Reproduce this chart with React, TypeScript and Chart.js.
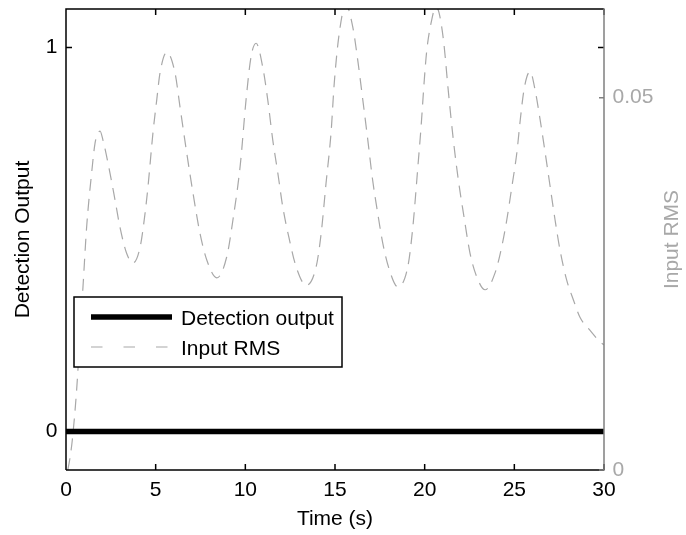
import React, { useEffect, useRef } from "react";
import { Chart, registerables } from "chart.js";

Chart.register(...registerables);

// ---- data ----
const rmsTime = [
  0.1, 0.2, 0.35, 0.6, 0.8, 0.96, 1.15, 1.43, 1.62, 1.78, 1.9, 2.06, 2.45, 2.73, 3.01, 3.38, 3.74,
  4.13, 4.41, 4.57, 4.85, 5.06, 5.24, 5.62, 6.08, 6.36, 6.73, 7.08, 7.47, 7.85, 8.41,
  8.96, 9.31, 9.72, 10.04, 10.32, 10.6, 10.97, 11.25, 11.53, 11.81, 12.09, 12.46, 12.83, 13.39,
  13.95, 14.23, 14.5, 14.78, 14.96, 15.24, 15.6, 15.99, 16.27, 16.55, 16.83, 17.1, 17.38, 17.66, 18.03, 18.5,
  19.06, 19.34, 19.62, 19.8, 19.98, 20.12, 20.39, 20.62, 20.8, 21.05, 21.33, 21.6, 21.88, 22.16, 22.53, 22.91, 23.37,
  23.93, 24.3, 24.58, 24.86, 25.14, 25.33, 25.51, 25.7, 25.88, 26.16, 26.44, 26.72, 27.0, 27.27, 27.55, 27.92,
  28.3, 28.66, 29.2, 29.78, 30,
];
const rmsValue = [
  0, 0.0013, 0.004, 0.011, 0.019, 0.0251, 0.0326, 0.0399, 0.0439, 0.0452, 0.0455, 0.0443, 0.0399, 0.0363, 0.0326, 0.0291, 0.0278,
  0.0299, 0.0345, 0.038, 0.0453, 0.0497, 0.0533, 0.0561, 0.0533, 0.0487, 0.0426, 0.0372, 0.0318, 0.0282, 0.0258,
  0.0286, 0.0336, 0.041, 0.0497, 0.0555, 0.0573, 0.0541, 0.0497, 0.0443, 0.0399, 0.0353, 0.0309, 0.0273, 0.0248,
  0.0273, 0.0318, 0.0385, 0.0453, 0.052, 0.0587, 0.0625, 0.0595, 0.055, 0.0497, 0.0443, 0.0389, 0.0345, 0.0305, 0.0269, 0.0246,
  0.0273, 0.0326, 0.0407, 0.0461, 0.0524, 0.0564, 0.0604, 0.0622, 0.0614, 0.0577, 0.0506, 0.0443, 0.0389, 0.0345, 0.0291, 0.0259, 0.0242,
  0.0265, 0.03, 0.0336, 0.038, 0.0426, 0.047, 0.0506, 0.0528, 0.0535, 0.051, 0.047, 0.0426, 0.038, 0.0336, 0.0295, 0.0255,
  0.0228, 0.0205, 0.0188, 0.0172, 0.0168,
];
const detectionTime = [0, 30];
const detectionValue = [0, 0];

const xTickValues = [0, 5, 10, 15, 20, 25, 30];
const leftTickValues = [0, 1];
const rightTickValues = [0, 0.05];

const xTitle = "Time (s)";
const leftTitle = "Detection Output";
const rightTitle = "Input RMS";
const legendLabels = ["Detection output", "Input RMS"];

// ---- styles ----
const FONT = '"Liberation Sans", Arial, Helvetica, sans-serif';
const FONT_SIZE = 21;
const GREY = "#a8a8a8";
const GREY_AXIS = "#808080";
const RMS_DASH = [12, 8];

const noPad = (s: any) => {
  s.paddingTop = 0;
  s.paddingBottom = 0;
  s.paddingLeft = 0;
  s.paddingRight = 0;
};

const framePlugin = {
  id: "frame",
  afterDatasetsDraw(chart: any) {
    const { ctx, chartArea: a, scales } = chart;
    const x = scales.x;
    const y = scales.y;
    const y2 = scales.y2;
    ctx.save();
    ctx.lineCap = "butt";
    // black spines + ticks
    ctx.strokeStyle = "#000";
    ctx.lineWidth = 1.5;
    ctx.beginPath();
    ctx.moveTo(a.left, a.bottom);
    ctx.lineTo(a.left, a.top);
    ctx.lineTo(a.right, a.top);
    ctx.moveTo(a.left, a.bottom);
    ctx.lineTo(a.right, a.bottom);
    for (const v of xTickValues) {
      const px = x.getPixelForValue(v);
      ctx.moveTo(px, a.bottom);
      ctx.lineTo(px, a.bottom - 6);
      ctx.moveTo(px, a.top);
      ctx.lineTo(px, a.top + 6);
    }
    for (const v of leftTickValues) {
      const py = y.getPixelForValue(v);
      ctx.moveTo(a.left, py);
      ctx.lineTo(a.left + 6, py);
      ctx.moveTo(a.right, py);
      ctx.lineTo(a.right - 6, py);
    }
    ctx.stroke();
    // grey right spine
    ctx.strokeStyle = GREY_AXIS;
    ctx.beginPath();
    ctx.moveTo(a.right, a.top - 0.75);
    ctx.lineTo(a.right, a.bottom + 0.75);
    for (const v of rightTickValues) {
      const py = y2.getPixelForValue(v);
      ctx.moveTo(a.right, py);
      ctx.lineTo(a.right - 5, py);
    }
    ctx.stroke();

    // legend
    const lx = 74, ly = 297, lw = 268, lh = 70;
    ctx.fillStyle = "#fff";
    ctx.fillRect(lx, ly, lw, lh);
    ctx.strokeStyle = "#000";
    ctx.lineWidth = 1.5;
    ctx.strokeRect(lx, ly, lw, lh);
    ctx.beginPath();
    ctx.lineWidth = 5.5;
    ctx.moveTo(91, 317);
    ctx.lineTo(172, 317);
    ctx.stroke();
    ctx.beginPath();
    ctx.strokeStyle = GREY;
    ctx.lineWidth = 1.2;
    ctx.setLineDash([11.5, 21]);
    ctx.moveTo(91, 347);
    ctx.lineTo(172, 347);
    ctx.stroke();
    ctx.setLineDash([]);
    ctx.font = `${FONT_SIZE}px ${FONT}`;
    ctx.fillStyle = "#000";
    ctx.textAlign = "left";
    ctx.textBaseline = "alphabetic";
    ctx.fillText(legendLabels[0], 181, 325);
    ctx.fillText(legendLabels[1], 181, 355);

    // axis titles
    ctx.textAlign = "center";
    ctx.fillText(xTitle, (a.left + a.right) / 2, 525);
    const cy = (a.top + a.bottom) / 2;
    ctx.save();
    ctx.translate(29, cy);
    ctx.rotate(-Math.PI / 2);
    ctx.fillText(leftTitle, 0, 0);
    ctx.restore();
    ctx.save();
    ctx.fillStyle = GREY;
    ctx.translate(678, cy);
    ctx.rotate(-Math.PI / 2);
    ctx.fillText(rightTitle, 0, 0);
    ctx.restore();
    ctx.restore();
  },
};

export default function App() {
  const ref = useRef<HTMLCanvasElement | null>(null);
  useEffect(() => {
    if (!ref.current) return;
    const detData = detectionTime.map((t, i) => ({ x: t, y: detectionValue[i] }));
    const rmsData = rmsTime.map((t, i) => ({ x: t, y: rmsValue[i] }));
    const chart = new Chart(ref.current, {
      type: "line",
      data: {
        datasets: [
          {
            label: legendLabels[0],
            data: detData,
            yAxisID: "y",
            borderColor: "#000",
            borderWidth: 5.5,
            pointRadius: 0,
            tension: 0,
          },
          {
            label: legendLabels[1],
            data: rmsData,
            yAxisID: "y2",
            borderColor: GREY,
            borderWidth: 1.2,
            borderDash: RMS_DASH,
            pointRadius: 0,
            cubicInterpolationMode: "monotone",
          },
        ],
      },
      options: {
        animation: false,
        responsive: false,
        maintainAspectRatio: false,
        layout: { padding: { top: 9, left: 0, right: 0, bottom: 0 } },
        plugins: { legend: { display: false }, tooltip: { enabled: false } },
        font: { family: FONT, size: FONT_SIZE },
        scales: {
          x: {
            type: "linear",
            min: 0,
            max: 30,
            grid: { display: false, drawTicks: false },
            border: { display: false },
            afterBuildTicks: (s: any) => {
              s.ticks = xTickValues.map((v) => ({ value: v }));
            },
            ticks: { color: "#000", font: { family: FONT, size: FONT_SIZE }, padding: 8, maxRotation: 0, autoSkip: false },
            afterFit: (s: any) => {
              s.height = 65;
              noPad(s);
            },
          },
          y: {
            type: "linear",
            position: "left",
            min: -0.1,
            max: 1.1,
            grid: { display: false, drawTicks: false },
            border: { display: false },
            afterBuildTicks: (s: any) => {
              s.ticks = leftTickValues.map((v) => ({ value: v }));
            },
            ticks: { color: "#000", font: { family: FONT, size: FONT_SIZE }, padding: 8.5, autoSkip: false },
            afterFit: (s: any) => {
              s.width = 66;
              noPad(s);
            },
          },
          y2: {
            type: "linear",
            position: "right",
            min: 0,
            max: 0.0619,
            grid: { display: false, drawTicks: false },
            border: { display: false },
            afterBuildTicks: (s: any) => {
              s.ticks = rightTickValues.map((v) => ({ value: v }));
            },
            ticks: { color: GREY, font: { family: FONT, size: FONT_SIZE }, padding: 8.5, autoSkip: false },
            afterFit: (s: any) => {
              s.width = 82;
              noPad(s);
            },
          },
        },
      },
      plugins: [framePlugin],
    } as any);
    return () => chart.destroy();
  }, []);
  return (
    <div style={{ position: "absolute", left: 0, top: 0, width: 686, height: 535, background: "#fff" }}>
      <canvas ref={ref} width={686} height={535} style={{ width: 686, height: 535, display: "block" }} />
    </div>
  );
}
